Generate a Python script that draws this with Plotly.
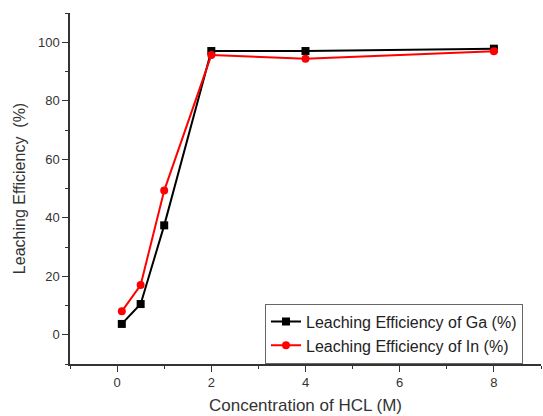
import plotly.graph_objects as go

conc = [0.1, 0.5, 1, 2, 4, 8]
ga = [3.7, 10.5, 37.4, 97.0, 97.0, 97.8]
inn = [8.0, 17.0, 49.3, 95.6, 94.4, 96.9]

FONT = "Liberation Sans, Arial"
fig = go.Figure()
fig.add_trace(go.Scatter(x=conc, y=ga, mode="lines+markers",
                         name="Leaching Efficiency of Ga (%)",
                         line=dict(color="black", width=2),
                         marker=dict(symbol="square", size=8, color="black")))
fig.add_trace(go.Scatter(x=conc, y=inn, mode="lines+markers",
                         name="Leaching Efficiency of In (%)",
                         line=dict(color="red", width=2),
                         marker=dict(symbol="circle", size=8, color="red")))

axis_common = dict(showgrid=False, zeroline=False, showline=True, linecolor="#333",
                   linewidth=1.5, ticks="outside", ticklen=6, tickcolor="#333",
                   tickfont=dict(family=FONT, size=13, color="#333"))
fig.update_xaxes(range=[-1, 9], tickvals=[0, 2, 4, 6, 8],
                 minor=dict(ticks="outside", ticklen=3, tickcolor="#333", dtick=1, tick0=0),
                 title=dict(text="Concentration of HCL (M)", standoff=10,
                            font=dict(family=FONT, size=17, color="#333")),
                 **axis_common)
fig.update_yaxes(range=[-10, 110], tickvals=[0, 20, 40, 60, 80, 100],
                 minor=dict(ticks="outside", ticklen=3, tickcolor="#333", dtick=10, tick0=0),
                 title=dict(text="Leaching Efficiency  (%)", standoff=8,
                            font=dict(family=FONT, size=16, color="#333")),
                 **axis_common)
fig.update_layout(width=543, height=416, margin=dict(l=70, r=2, t=13, b=52),
                  plot_bgcolor="white", paper_bgcolor="white",
                  legend=dict(x=0.414, y=0.172, xanchor="left", yanchor="top",
                              bordercolor="#666", borderwidth=1, bgcolor="white",
                              font=dict(family=FONT, size=16, color="#222"),
                              tracegroupgap=0, itemwidth=30))
fig.write_html("out.html")
